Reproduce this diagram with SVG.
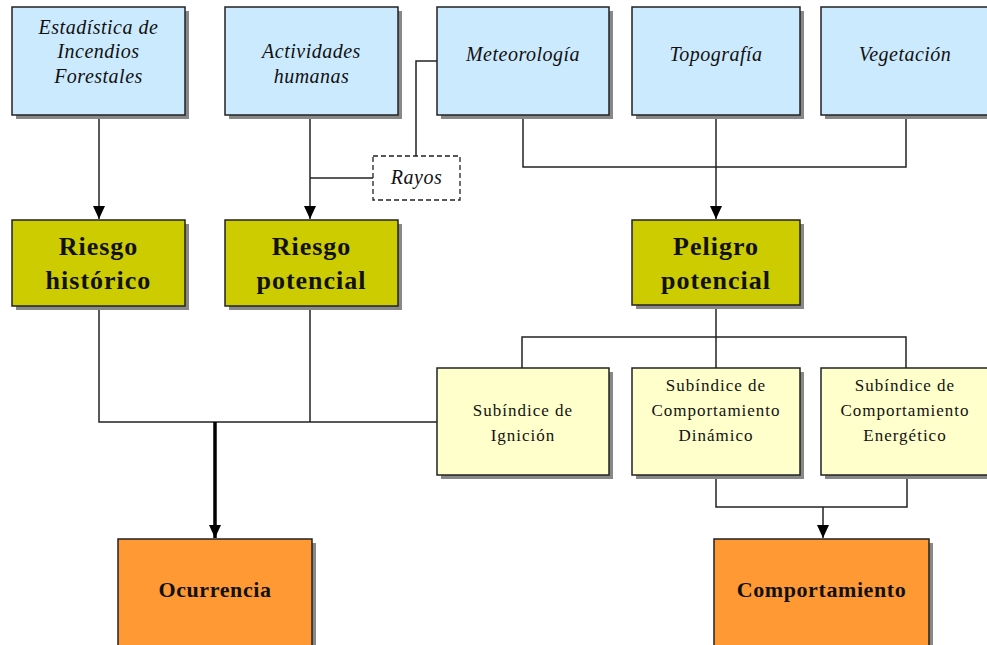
<svg xmlns="http://www.w3.org/2000/svg" width="987" height="645" viewBox="0 0 987 645">
<defs>
<style>
.box{stroke:#222;stroke-width:1.5}
.shadow{fill:#888}
.blue{fill:#CCEAFE}
.olive{fill:#CCCC00}
.pale{fill:#FFFFCC}
.orange{fill:#FF9933}
.it{font-family:"Liberation Serif","DejaVu Serif",serif;font-style:italic;font-size:20px;letter-spacing:0.5px;fill:#111;text-anchor:middle}
.big{font-family:"Liberation Serif","DejaVu Serif",serif;font-weight:bold;font-size:26px;letter-spacing:1px;fill:#111;text-anchor:middle}
.sub{font-family:"Liberation Serif","DejaVu Serif",serif;font-size:17px;letter-spacing:1px;fill:#111;text-anchor:middle}
.bot{font-family:"Liberation Serif","DejaVu Serif",serif;font-weight:bold;font-size:22px;letter-spacing:0.6px;fill:#111;text-anchor:middle}
.ln{fill:none;stroke:#222;stroke-width:1.5}
.thick{fill:none;stroke:#000;stroke-width:3.5}
</style>
<marker id="arr" markerUnits="userSpaceOnUse" markerWidth="14" markerHeight="14" viewBox="0 0 14 14" refX="13" refY="7" orient="auto">
<path d="M0,1 L13,7 L0,13 Z" fill="#000"/>
</marker>
</defs>

<g id="connectors">
<path class="ln" d="M99,115 V219" marker-end="url(#arr)"/>
<path class="ln" d="M310,115 V219" marker-end="url(#arr)"/>
<path class="ln" d="M437,61 H416 V156"/>
<path class="ln" d="M373,178 H310"/>
<path class="ln" d="M523,115 V167 H906 V115"/>
<path class="ln" d="M716,115 V219" marker-end="url(#arr)"/>
<path class="ln" d="M716,305 V368"/>
<path class="ln" d="M522,368 V337 H906 V368"/>
<path class="ln" d="M99,306 V422 H437"/>
<path class="ln" d="M310,306 V422"/>
<path class="thick" d="M215,422 V538" marker-end="url(#arr)"/>
<path class="ln" d="M716,475 V507 H907 V475"/>
<path class="ln" d="M823,507 V538" marker-end="url(#arr)"/>
</g>

<g id="n-estadistica">
<rect class="shadow" x="16" y="11" width="173" height="108"/>
<rect class="box blue" x="12" y="7" width="173" height="108"/>
<text class="it" x="98.5" y="34">Estadística de</text>
<text class="it" x="98.5" y="58">Incendios</text>
<text class="it" x="98.5" y="83">Forestales</text>
</g>
<g id="n-actividades">
<rect class="shadow" x="229" y="11" width="173" height="108"/>
<rect class="box blue" x="225" y="7" width="173" height="108"/>
<text class="it" x="311.5" y="58">Actividades</text>
<text class="it" x="311.5" y="83">humanas</text>
</g>
<g id="n-meteorologia">
<rect class="shadow" x="441" y="11" width="172" height="108"/>
<rect class="box blue" x="437" y="7" width="172" height="108"/>
<text class="it" x="523" y="61">Meteorología</text>
</g>
<g id="n-topografia">
<rect class="shadow" x="636" y="11" width="168" height="108"/>
<rect class="box blue" x="632" y="7" width="168" height="108"/>
<text class="it" x="716" y="61">Topografía</text>
</g>
<g id="n-vegetacion">
<rect class="shadow" x="825" y="11" width="168" height="108"/>
<rect class="box blue" x="821" y="7" width="168" height="108"/>
<text class="it" x="905" y="61">Vegetación</text>
</g>
<g id="n-rayos">
<rect x="373" y="156" width="87" height="44" fill="#fff" stroke="#222" stroke-width="1.3" stroke-dasharray="5,3"/>
<text class="it" x="416.5" y="184" font-size="17">Rayos</text>
</g>

<g id="n-riesgo-historico">
<rect class="shadow" x="16" y="224" width="173" height="86"/>
<rect class="box olive" x="12" y="220" width="173" height="86"/>
<text class="big" x="98.5" y="255">Riesgo</text>
<text class="big" x="98.5" y="289">histórico</text>
</g>
<g id="n-riesgo-potencial">
<rect class="shadow" x="229" y="224" width="173" height="86"/>
<rect class="box olive" x="225" y="220" width="173" height="86"/>
<text class="big" x="311.5" y="255">Riesgo</text>
<text class="big" x="311.5" y="289">potencial</text>
</g>
<g id="n-peligro">
<rect class="shadow" x="636" y="224" width="168" height="85"/>
<rect class="box olive" x="632" y="220" width="168" height="85"/>
<text class="big" x="716" y="255">Peligro</text>
<text class="big" x="716" y="289">potencial</text>
</g>

<g id="n-ignicion">
<rect class="shadow" x="441" y="372" width="172" height="107"/>
<rect class="box pale" x="437" y="368" width="172" height="107"/>
<text class="sub" x="523" y="416">Subíndice de</text>
<text class="sub" x="523" y="441">Ignición</text>
</g>
<g id="n-dinamico">
<rect class="shadow" x="636" y="372" width="168" height="107"/>
<rect class="box pale" x="632" y="368" width="168" height="107"/>
<text class="sub" x="716" y="391">Subíndice de</text>
<text class="sub" x="716" y="416">Comportamiento</text>
<text class="sub" x="716" y="441">Dinámico</text>
</g>
<g id="n-energetico">
<rect class="shadow" x="825" y="372" width="168" height="107"/>
<rect class="box pale" x="821" y="368" width="168" height="107"/>
<text class="sub" x="905" y="391">Subíndice de</text>
<text class="sub" x="905" y="416">Comportamiento</text>
<text class="sub" x="905" y="441">Energético</text>
</g>

<g id="n-ocurrencia">
<rect class="shadow" x="122" y="543" width="194" height="110"/>
<rect class="box orange" x="118" y="539" width="194" height="110"/>
<text class="bot" x="215" y="597">Ocurrencia</text>
</g>
<g id="n-comportamiento">
<rect class="shadow" x="718" y="543" width="215" height="110"/>
<rect class="box orange" x="714" y="539" width="215" height="110"/>
<text class="bot" x="821.5" y="597">Comportamiento</text>
</g>
</svg>
